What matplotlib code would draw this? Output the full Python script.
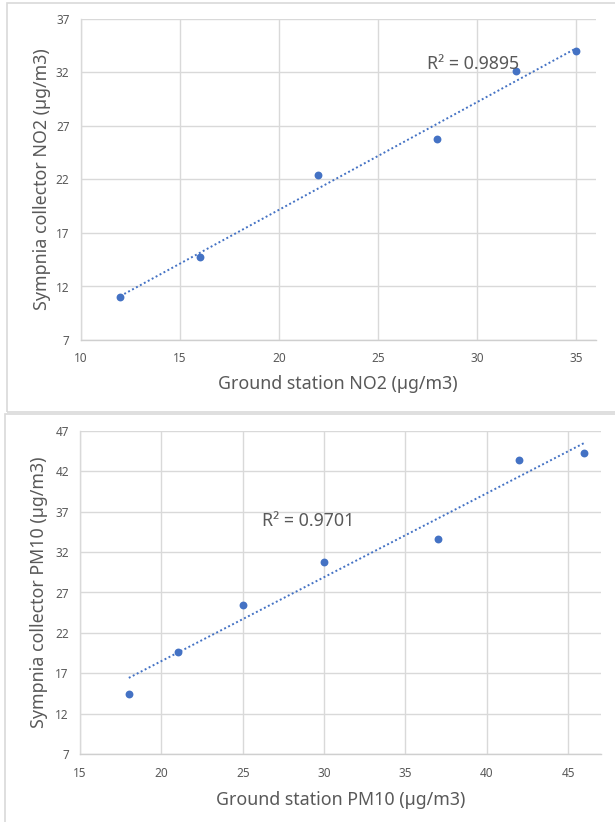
import numpy as np
import matplotlib
matplotlib.use("Agg")
import matplotlib.pyplot as plt
from matplotlib.patches import Rectangle

# NO2: ground station vs Sympnia collector
no2_ground = [12, 16, 22, 28, 32, 35]
no2_collector = [11.0, 14.8, 22.4, 25.8, 32.1, 34.0]
no2_r2 = "R² = 0.9895"

# PM10: ground station vs Sympnia collector
pm10_ground = [18, 21, 25, 30, 37, 42, 46]
pm10_collector = [14.5, 19.6, 25.5, 30.8, 33.6, 43.4, 44.2]
pm10_r2 = "R² = 0.9701"

BLUE = "#4472C4"
GRID = "#d9d9d9"
TEXT = "#595959"

plt.rcParams['font.family'] = ['Noto Sans', 'DejaVu Sans']

W, H = 615, 822


def px_box(x0, y0, x1, y1):
    # pixel box (top-left origin) -> figure fraction [left, bottom, width, height]
    return [x0 / W, 1 - y1 / H, (x1 - x0) / W, (y1 - y0) / H]


def draw_scatter(ax, xs, ys, xlim, ylim, xlabel, ylabel, r2_text, r2_pos, ylab_x, xlab_y):
    ax.set_xlim(*xlim)
    ax.set_ylim(*ylim)
    ax.set_xticks(np.arange(xlim[0], xlim[1] + 0.01, 5))
    ax.set_yticks(np.arange(ylim[0], ylim[1] + 0.01, 5))
    ax.grid(True, color=GRID, linewidth=1.0)
    ax.set_axisbelow(True)
    for side in ["top", "right"]:
        ax.spines[side].set_visible(False)
    ax.spines["left"].set_color(GRID)
    ax.spines["bottom"].set_color("#cfcfcf")
    ax.spines["left"].set_linewidth(1.0)
    ax.spines["bottom"].set_linewidth(1.0)
    ax.tick_params(length=0, labelsize=8.5, labelcolor=TEXT)
    ax.tick_params(axis="x", pad=9)
    ax.tick_params(axis="y", pad=8)

    # linear trendline over the data range
    slope, intercept = np.polyfit(xs, ys, 1)
    tx = np.array([min(xs), max(xs)])
    ax.plot(tx, slope * tx + intercept, color=BLUE, linewidth=1.4,
            linestyle=(0, (1, 1.3)), zorder=2)
    ax.scatter(xs, ys, s=32, color=BLUE, zorder=3, linewidths=0)

    ax.text(r2_pos[0], r2_pos[1], r2_text, fontsize=12.8, color=TEXT,
            ha="left", va="center", zorder=4)
    ax.set_xlabel(xlabel, fontsize=12.8, color=TEXT)
    ax.set_ylabel(ylabel, fontsize=12.8, color=TEXT)
    ax.xaxis.set_label_coords(0.5, xlab_y)
    ax.yaxis.set_label_coords(ylab_x, 0.5)


fig = plt.figure(figsize=(W / 100, H / 100), dpi=100)
fig.patch.set_facecolor("white")

# chart frames
fig.add_artist(Rectangle((7 / W, 1 - 412.3 / H), (620 - 7) / W, (412.3 - 2.7) / H,
                         transform=fig.transFigure, fill=False,
                         edgecolor=GRID, linewidth=1.2))
fig.add_artist(Rectangle((4.7 / W, -0.01), (620 - 4.7) / W, 0.01 + (H - 413.5) / H,
                         transform=fig.transFigure, fill=False,
                         edgecolor=GRID, linewidth=1.2))

ax1 = fig.add_axes(px_box(80.7, 19, 595.7, 340))
draw_scatter(ax1, no2_ground, no2_collector, (10, 36), (7, 37),
             "Ground station NO2 (µg/m3)", "Sympnia collector NO2 (µg/m3)",
             no2_r2, (27.5, 32.8), -0.058, -0.109)

ax2 = fig.add_axes(px_box(80, 430.7, 600.7, 754.3))
draw_scatter(ax2, pm10_ground, pm10_collector, (15, 47), (7, 47),
             "Ground station PM10 (µg/m3)", "Sympnia collector PM10 (µg/m3)",
             pm10_r2, (26.2, 35.8), -0.061, -0.1125)

fig.savefig("out.png", dpi=100, facecolor="white")
